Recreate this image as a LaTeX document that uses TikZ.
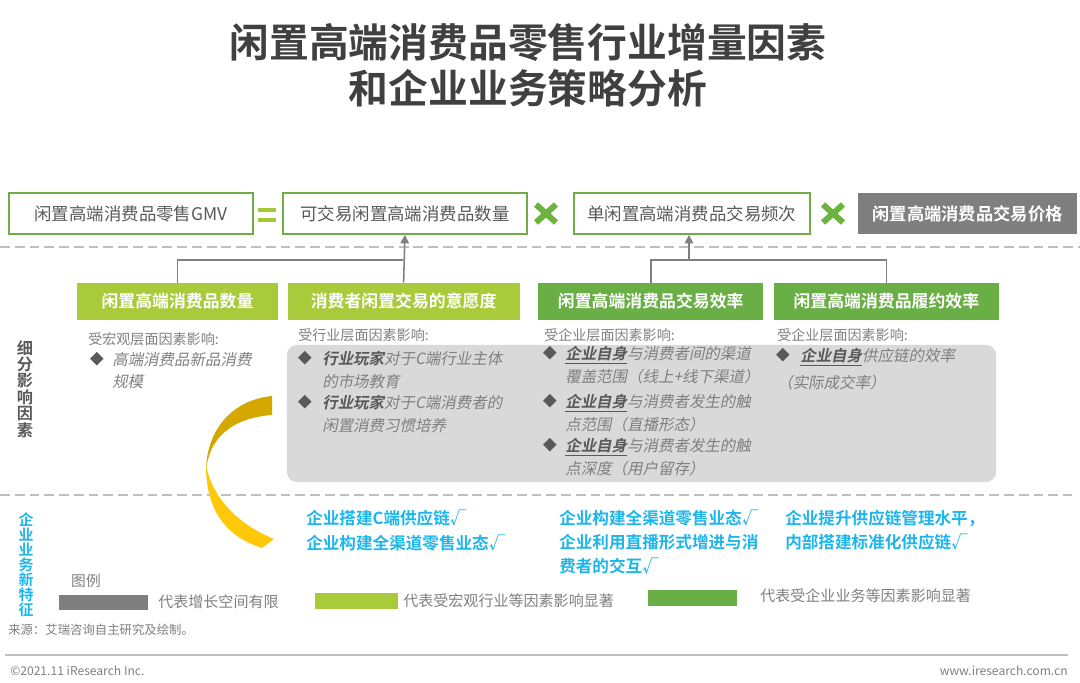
\documentclass[tikz,border=0pt]{standalone}
\usepackage{fontspec}
\setmainfont{Noto Sans CJK SC}[BoldFont={Noto Sans CJK SC Bold},ItalicFont={Noto Sans CJK SC},ItalicFeatures={FakeSlant=0.2},BoldItalicFont={Noto Sans CJK SC Bold},BoldItalicFeatures={FakeSlant=0.2}]
\usetikzlibrary{arrows.meta, positioning, calc}
\definecolor{titlegray}{HTML}{404040}
\definecolor{kwgray}{HTML}{595959}
\definecolor{txtgray}{HTML}{7F7F7F}
\definecolor{boxgray}{HTML}{7F7F7F}
\definecolor{panelgray}{HTML}{D9D9D9}
\definecolor{sepgray}{HTML}{BFBFBF}
\definecolor{boxgreen}{HTML}{70AD47}
\definecolor{lgreen}{HTML}{A9CB3B}
\definecolor{dgreen}{HTML}{6AAE46}
\definecolor{crossgreen}{HTML}{6CB33F}
\definecolor{eqgreen}{HTML}{A2C93A}
\definecolor{featblue}{HTML}{1DB5EA}
\definecolor{arcgold}{HTML}{D4A800}
\definecolor{arcyellow}{HTML}{FFC90A}
\newcommand{\kwd}[1]{{\bfseries\color{kwgray}#1}}
\newcommand{\kwdu}[1]{{\bfseries\color{kwgray}\underline{#1}}}

\begin{document}
\begin{tikzpicture}[x=0.025cm, y=-0.025cm, >={Triangle[length=6pt, width=6pt]}, conn/.style={draw=boxgray, line width=1.1pt}, sepline/.style={draw=sepgray, line width=1pt, dash pattern=on 7pt off 3.5pt}]
    % Define styles for boxes, notes and labels
    \tikzstyle{title} = [inner sep=0pt, text=titlegray, font=\fontsize{28.3}{34}\selectfont\bfseries]
    \tikzstyle{topbox} = [draw=boxgreen, line width=1.3pt, fill=white, rectangle, minimum height=1.025cm, inner sep=0pt, text=kwgray, font=\fontsize{12.4}{15}\selectfont]
    \tikzstyle{pricebox} = [fill=boxgray, rectangle, minimum height=1.025cm, inner sep=0pt, text=white, font=\fontsize{12.3}{15}\selectfont\bfseries]
    \tikzstyle{factor} = [rectangle, minimum height=0.925cm, inner sep=0pt, text=white, font=\fontsize{12}{15}\selectfont\bfseries]
    \tikzstyle{panel} = [fill=panelgray, rounded corners=0.25cm, minimum width=17.725cm, minimum height=3.425cm, inner sep=0pt]
    \tikzstyle{note} = [inner sep=0pt, anchor=west, text=txtgray, font=\fontsize{10}{12}\selectfont]
    \tikzstyle{diam} = [inner sep=0pt, text=kwgray, font=\fontsize{10}{12}\selectfont]
    \tikzstyle{bul} = [inner sep=0pt, anchor=north west, align=left, text=txtgray, font=\fontsize{11}{16.6}\selectfont\itshape]
    \tikzstyle{feat} = [inner sep=0pt, anchor=north west, align=left, text=featblue, font=\fontsize{11.8}{17.2}\selectfont\bfseries]
    \tikzstyle{vlab} = [inner sep=0pt, align=center, font=\bfseries]
    \tikzstyle{legbar} = [rectangle, inner sep=0pt, minimum width=2.225cm, minimum height=0.39cm]
    \tikzstyle{legtxt} = [inner sep=0pt, anchor=west, text=txtgray, font=\fontsize{10.7}{13}\selectfont]
    \tikzstyle{crossmark} = [draw=crossgreen, line width=4.3pt]
    \tikzstyle{eqsign} = [draw=eqgreen, line width=2.8pt]

    \useasboundingbox (0,0) rectangle (1080,683);

    % Title
    \node[title] (t1) at (528,42) {闲置高端消费品零售行业增量因素};
    \node[title] (t2) at (528,88) {和企业业务策略分析};

    % Top row: GMV = quantity x frequency x price
    \node[topbox, minimum width=6.1cm] (gmv) at (131,213.5) {闲置高端消费品零售GMV};
    \node[topbox, minimum width=6.1cm, right=0.7cm of gmv] (qty) {可交易闲置高端消费品数量};
    \node[topbox, minimum width=5.9cm, right=1.125cm of qty] (freq) {单闲置高端消费品交易频次};
    \node[pricebox, minimum width=5.475cm, right=1.175cm of freq] (price) {闲置高端消费品交易价格};

    \coordinate (eq) at (267,215);
    \coordinate (x1) at (546,213.5);
    \coordinate (x2) at (833,213.5);
    \draw[eqsign, shift={(eq)}] (-9,-5) -- (9,-5) (-9,5) -- (9,5);
    \draw[crossmark, shift={(x1)}] (-10,-9) -- (10,9) (-10,9) -- (10,-9);
    \draw[crossmark, shift={(x2)}] (-10,-9) -- (10,9) (-10,9) -- (10,-9);

    % Separators
    \draw[sepline] (0,247) -- (1080,247);
    \draw[sepline] (0,495) -- (1072,495);

    % Factor boxes
    \node[factor, fill=lgreen, minimum width=5.025cm] (fqty) at (177.5,301.5) {闲置高端消费品数量};
    \node[factor, fill=lgreen, minimum width=5.8cm, right=0.225cm of fqty] (fwill) {消费者闲置交易的意愿度};
    \node[factor, fill=dgreen, minimum width=5.625cm, right=0.45cm of fwill] (feff) {闲置高端消费品交易效率};
    \node[factor, fill=dgreen, minimum width=5.625cm, right=0.25cm of feff] (fful) {闲置高端消费品履约效率};

    % Draw edges
    \coordinate (jl) at (403,260);
    \coordinate (jr) at (689,260);
    \draw[conn] (fqty.north) |- (jl);
    \draw[conn, ->] (fwill.north) -- (qty.south);
    \draw[conn] (feff.north) |- (jr) -| (fful.north);
    \draw[conn, ->] (jr) -- (jr |- freq.south);

    % Influence notes
    \node[panel] (pnl) at (641.5,413.5) {};
    \node[note] (h1) at (88,339) {受宏观层面因素影响:};
    \node[note] (h2) at (298,335) {受行业层面因素影响:};
    \node[note] (h3) at (544,335) {受企业层面因素影响:};
    \node[note] (h4) at (777,335) {受企业层面因素影响:};

    \node[diam] (d11) at (97,359) {◆};
    \node[bul, font=\fontsize{11}{15.6}\selectfont\itshape] (b11) at (112,352) {高端消费品新品消费\\规模};

    \node[diam] (d21) at (305,358) {◆};
    \node[bul] (b21) at (322,351) {\kwd{行业玩家}对于C端行业主体\\的市场教育};
    \node[diam] (d22) at (305,402) {◆};
    \node[bul] (b22) at (322,395) {\kwd{行业玩家}对于C端消费者的\\闲置消费习惯培养};

    \node[diam] (d31) at (550,353) {◆};
    \node[bul] (b31) at (565,346) {\kwdu{企业自身}与消费者间的渠道\\覆盖范围（线上+线下渠道）};
    \node[diam] (d32) at (550,401) {◆};
    \node[bul] (b32) at (565,394) {\kwdu{企业自身}与消费者发生的触\\点范围（直播形态）};
    \node[diam] (d33) at (550,445) {◆};
    \node[bul] (b33) at (565,438) {\kwdu{企业自身}与消费者发生的触\\点深度（用户留存）};

    \node[diam] (d41) at (783,355) {◆};
    \node[bul] (b41) at (800,348) {\kwdu{企业自身}供应链的效率};
    \node[bul] (b42) at (777,375) {（实际成交率）};

    % Ribbon arc
    \fill[arcgold] (272,396) .. controls (232,400) and (206,430) .. (206,472) .. controls (208,440) and (230,418) .. (272,415) -- cycle;
    \fill[arcyellow] (206,466) .. controls (206,508) and (224,536) .. (262,548) -- (274,539) .. controls (238,524) and (214,500) .. (206,466) -- cycle;

    % New business features
    \node[feat] (n1) at (306,510) {企业搭建C端供应链√\\企业构建全渠道零售业态√};
    \node[feat] (n2) at (559,509.5) {企业构建全渠道零售业态√\\企业利用直播形式增进与消\\费者的交互√};
    \node[feat] (n3) at (785,509.5) {企业提升供应链管理水平，\\内部搭建标准化供应链√};

    % Side labels
    \node[vlab, text=kwgray, font=\fontsize{11.5}{11.7}\selectfont\bfseries] (v1) at (25,389) {细\\分\\影\\响\\因\\素};
    \node[vlab, text=featblue, font=\fontsize{10.6}{10.7}\selectfont\bfseries] (v2) at (26,564.5) {企\\业\\业\\务\\新\\特\\征};

    % Legend
    \node[note, anchor=center, font=\fontsize{10.5}{12}\selectfont] (lgh) at (86,581) {图例};
    \node[legbar, fill=boxgray] (lg1) at (103.5,602.5) {};
    \node[legtxt] (lt1) at (158,602) {代表增长空间有限};
    \node[legbar, fill=lgreen, minimum width=2.075cm] (lg2) at (356.5,601) {};
    \node[legtxt] (lt2) at (403,601) {代表受宏观行业等因素影响显著};
    \node[legbar, fill=dgreen] (lg3) at (692.5,598) {};
    \node[legtxt] (lt3) at (760,596) {代表受企业业务等因素影响显著};

    % Source and footer
    \node[note, font=\fontsize{8.8}{11}\selectfont] (src) at (8,630) {来源：艾瑞咨询自主研究及绘制。};
    \draw[draw=sepgray, line width=1.1pt] (5,655) -- (1068,655);
    \node[note, font=\fontsize{8.6}{11}\selectfont] (cp) at (10,671) {©2021.11 iResearch Inc.};
    \node[note, anchor=east, font=\fontsize{8.6}{11}\selectfont] (web) at (1068,671) {www.iresearch.com.cn};
\end{tikzpicture}
\end{document}
